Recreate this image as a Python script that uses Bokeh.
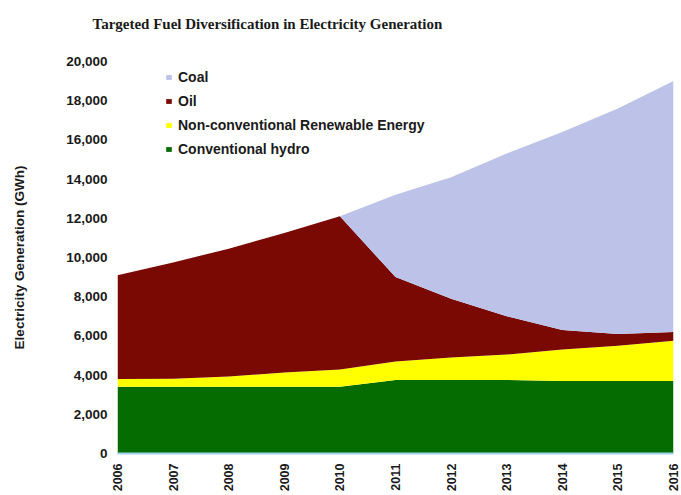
import math
from bokeh.plotting import figure
from bokeh.models import (ColumnDataSource, Range1d, Legend, LegendItem,
                          NumeralTickFormatter, FixedTicker)
from bokeh.embed import file_html
from bokeh.resources import INLINE

years = [2006, 2007, 2008, 2009, 2010, 2011, 2012, 2013, 2014, 2015, 2016]
hydro = [3400, 3400, 3400, 3400, 3400, 3750, 3750, 3750, 3700, 3700, 3700]
ncre = [400, 420, 530, 730, 880, 950, 1150, 1300, 1600, 1800, 2050]
oil = [5300, 5930, 6520, 7120, 7820, 4300, 3000, 1950, 1000, 600, 450]
coal = [0, 0, 0, 0, 0, 4200, 6200, 8300, 10100, 11500, 12800]

names = ["Conventional hydro", "Non-conventional Renewable Energy", "Oil", "Coal"]
colors = ["#056c02", "#ffff00", "#7a0803", "#bcc2e8"]
y_ticks = list(range(0, 20001, 2000))
title_text = "Targeted Fuel Diversification in Electricity Generation"

source = ColumnDataSource(dict(year=years, hydro=hydro, ncre=ncre, oil=oil, coal=coal))

p = figure(width=681, height=495, output_backend="svg", toolbar_location=None,
           x_range=Range1d(2006, 2016), y_range=Range1d(0, 20000),
           min_border_left=117, min_border_right=8, min_border_top=61,
           min_border_bottom=42)

rs = p.varea_stack(stackers=["hydro", "ncre", "oil", "coal"], x="year",
                   color=colors, source=source)

legend = Legend(items=[LegendItem(label=n, renderers=[r]) for n, r in
                       reversed(list(zip(names, rs)))],
                location=(48, 294), orientation="vertical")
legend.border_line_color = None
legend.background_fill_alpha = 0
legend.padding = 0
legend.margin = 0
legend.spacing = 4
legend.label_height = 20
legend.glyph_width = 7
legend.glyph_height = 6
legend.label_standoff = 6
legend.label_text_font = "Liberation Sans"
legend.label_text_font_style = "bold"
legend.label_text_font_size = "14px"
legend.label_text_color = "#1a1a1a"
p.add_layout(legend, "center")

p.title.text = title_text + "\n "
p.title.text_font = "Liberation Serif"
p.title.text_font_style = "bold"
p.title.text_font_size = "15px"
p.title.align = "left"
p.title.offset = -25
p.title.standoff = 27
p.title.text_color = "#1a1a1a"

p.xgrid.visible = False
p.ygrid.visible = False
p.outline_line_color = None

p.xaxis.ticker = FixedTicker(ticks=years)
p.xaxis.major_label_orientation = math.pi / 2
p.xaxis.major_label_standoff = 10
p.xaxis.axis_line_color = "#9fd3f0"
p.xaxis.axis_line_width = 2
p.yaxis.ticker = FixedTicker(ticks=y_ticks)
p.yaxis.formatter = NumeralTickFormatter(format="0,0")
p.yaxis.axis_line_color = None
p.yaxis.major_label_standoff = 10
p.yaxis.axis_label = "Electricity Generation (GWh)"
p.yaxis.axis_label_standoff = 36
for ax in (p.xaxis, p.yaxis):
    ax.major_tick_out = 0
    ax.major_tick_in = 0
    ax.minor_tick_out = 0
    ax.minor_tick_in = 0
    ax.major_label_text_font = "Liberation Sans"
    ax.major_label_text_font_style = "bold"
    ax.major_label_text_color = "#1a1a1a"
    ax.axis_label_text_font = "Liberation Sans"
    ax.axis_label_text_font_style = "bold"
    ax.axis_label_text_color = "#1a1a1a"
p.xaxis.major_label_text_font_size = "12.5px"
p.yaxis.major_label_text_font_size = "13.5px"
p.yaxis.axis_label_text_font_size = "13.5px"

open("out.html", "w").write(file_html(p, INLINE))
